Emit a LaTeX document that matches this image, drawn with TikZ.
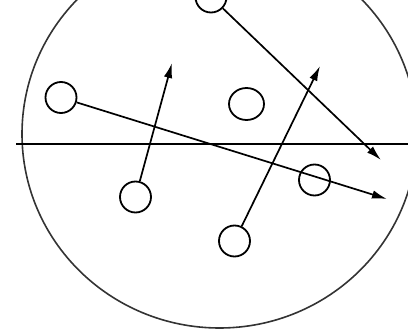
\documentclass[tikz,border=0pt]{standalone}
\usetikzlibrary{arrows.meta,shapes.geometric}
\begin{document}
\begin{tikzpicture}[x=1pt,y=-1pt,
  ball/.style={draw,circle,line width=1.8pt,minimum size=31pt,inner sep=0pt},
  oball/.style={draw,ellipse,line width=1.8pt,minimum width=35pt,minimum height=32pt,inner sep=0pt},
  mover/.style={line width=1.7pt,-{Latex[length=15pt,width=8.5pt]}}]
\useasboundingbox (0,0) rectangle (408,332);
\clip (0,0) rectangle (408,332);
\draw[line width=1.6pt,black!80] (219.5,134) ellipse [x radius=197.5, y radius=194];
\draw[line width=1.8pt] (16,144) coordinate (hl) -- (408,144) coordinate (hr);
\node[ball] (c1) at (61,97.5) {};
\node[oball] (c2) at (246.5,104) {};
\node[ball] (c3) at (135.5,197) {};
\node[ball] (c4) at (234.5,241) {};
\node[ball] (c5) at (314.5,180) {};
\node[ball] (c6) at (211,-3) {};
\coordinate (tA) at (387,199);
\coordinate (tB) at (172,63);
\coordinate (tC) at (320,66);
\coordinate (tD) at (381,160);
\draw[mover] (c1) -- (tA);
\draw[mover] (c3) -- (tB);
\draw[mover] (c4) -- (tC);
\draw[mover] (c6) -- (tD);
\end{tikzpicture}
\end{document}
